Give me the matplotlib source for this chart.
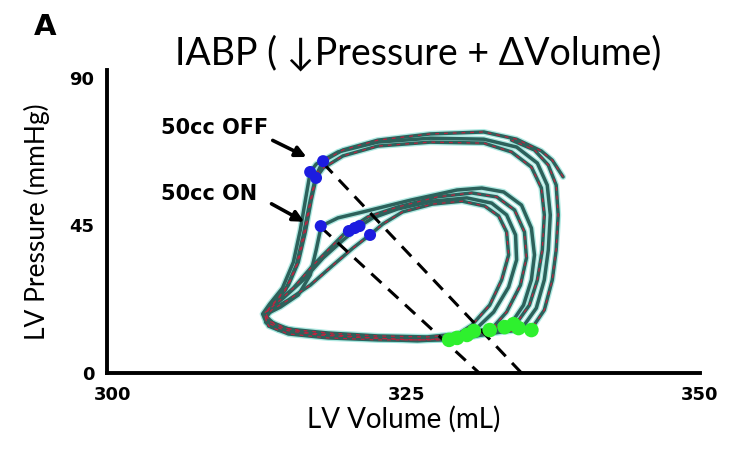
import numpy as np
import matplotlib
matplotlib.use("Agg")
import matplotlib.pyplot as plt

# pressure-volume loops (volume mL, pressure mmHg)
off_a_v = [338.34, 337.42, 336.49, 334.38, 331.59, 327.03, 322.55, 319.59, 317.91, 317.31, 316.81,
           316.22, 315.63, 314.70, 313.60, 312.92, 313.26, 314.95, 318.33, 322.55, 326.77, 330.15,
           333.11, 335.64, 336.74, 337.42, 337.75, 337.92, 337.75, 337.08, 335.90, 333.95]
off_a_p = [59.8, 64.9, 67.7, 71.3, 73.5, 72.9, 71.0, 68.0, 64.6, 60.4, 52.7,
           42.1, 32.9, 25.3, 20.7, 17.7, 14.3, 11.9, 10.7, 10.1, 10.1, 11.0,
           12.5, 13.4, 19.2, 28.4, 37.5, 48.2, 57.3, 63.4, 68.0, 71.0]

off_b_v = [316.81, 316.47, 315.96, 315.37, 314.44, 313.34, 312.75, 313.09, 314.78, 318.33, 322.55,
           326.77, 330.15, 332.69, 334.97, 336.06, 336.74, 337.08, 337.25, 336.99, 336.15, 334.38,
           331.59, 327.03, 322.55, 319.17, 317.31, 316.81]
off_b_p = [61.3, 54.3, 43.6, 33.8, 25.9, 21.0, 18.0, 15.2, 12.8, 11.6, 11.0,
           10.7, 11.6, 13.1, 14.3, 19.8, 28.4, 37.5, 48.2, 57.3, 64.0, 68.9,
           71.3, 71.6, 70.4, 67.4, 63.7, 61.3]

off_c_v = [317.31, 316.89, 316.39, 315.79, 314.95, 313.77, 313.01, 313.26, 314.95, 318.33, 322.55,
           326.77, 330.15, 332.69, 334.38, 335.47, 336.15, 336.57, 336.74, 336.49, 335.64, 333.95,
           331.59, 327.03, 322.55, 319.59, 317.91, 317.31]
off_c_p = [59.5, 52.7, 43.0, 33.8, 26.8, 21.6, 18.6, 15.9, 13.4, 12.2, 11.3,
           11.0, 12.2, 14.0, 15.2, 20.7, 28.4, 37.5, 48.2, 56.4, 62.8, 67.4,
           70.1, 70.4, 69.2, 66.2, 62.5, 59.5]

on_a_v = [317.74, 317.31, 316.81, 315.79, 314.27, 313.09, 313.01, 314.10, 317.48, 321.71, 325.93,
          330.15, 332.26, 333.70, 334.97, 335.64, 335.90, 335.64, 334.80, 333.28, 331.42, 329.31,
          325.34, 321.28, 319.17, 317.74]
on_a_p = [44.8, 37.5, 29.9, 23.8, 20.1, 18.0, 15.5, 13.1, 11.3, 10.4, 9.8,
          10.7, 12.2, 14.0, 20.7, 28.4, 36.0, 44.2, 51.2, 55.2, 56.4, 55.8,
          52.7, 49.1, 47.3, 44.8]

on_b_v = [320.02, 318.75, 317.06, 315.37, 313.94, 312.92, 313.09, 314.53, 317.48, 321.71, 325.93,
          329.31, 332.09, 333.53, 334.71, 335.22, 335.05, 334.21, 332.69, 330.57, 327.62, 324.24,
          321.71, 320.02]
on_b_p = [43.6, 39.0, 32.9, 25.9, 21.3, 18.3, 15.5, 13.1, 11.6, 10.7, 10.1,
          10.7, 12.8, 18.6, 26.8, 35.1, 43.0, 49.7, 53.7, 54.9, 53.7, 50.6,
          47.6, 43.6]

on_c_v = [321.03, 319.59, 317.91, 316.22, 314.53, 313.26, 312.92, 313.68, 316.64, 320.86, 325.08,
          328.46, 330.74, 332.43, 333.70, 334.38, 334.29, 333.53, 332.26, 330.15, 327.20, 324.24,
          322.13, 321.03]
on_c_p = [44.8, 40.5, 35.1, 28.4, 22.9, 19.2, 16.8, 14.0, 11.9, 11.0, 10.4,
          11.0, 12.8, 18.6, 26.2, 34.5, 42.1, 48.2, 51.8, 53.4, 52.4, 50.0,
          47.3, 44.8]

on_d_v = [321.88, 320.44, 318.75, 316.81, 314.95, 313.51, 313.09, 313.94, 316.64, 320.86, 325.08,
          328.63, 330.57, 332.09, 333.11, 333.70, 333.53, 332.85, 331.67, 329.73, 327.20, 324.66,
          322.97, 321.88]
on_d_p = [42.1, 38.1, 32.9, 26.8, 22.3, 19.2, 17.1, 14.3, 12.2, 11.0, 10.1,
          10.1, 14.6, 20.7, 28.4, 36.0, 43.0, 47.9, 50.9, 52.4, 51.5, 49.1,
          45.4, 42.1]

# end-systolic points (blue) and end-diastolic points (green)
es_v = [317.9, 316.8, 317.3, 317.7, 320.1, 320.6, 321.0, 321.9]
es_p = [64.6, 61.3, 59.5, 44.8, 43.3, 44.2, 44.8, 42.1]
ed_v = [328.63, 329.31, 330.15, 330.74, 332.09, 333.36, 334.12, 334.55, 335.64]
ed_p = [10.1, 10.7, 11.6, 12.8, 13.1, 14.0, 14.9, 13.7, 13.1]

# arterial elastance lines: end-systolic point -> EDV at zero pressure
ea_off_v = [317.9, 334.8]
ea_off_p = [64.0, 0.0]
ea_on_v = [317.7, 331.2]
ea_on_p = [44.5, 0.0]

loops = [(off_a_v, off_a_p), (off_b_v, off_b_p), (off_c_v, off_c_p),
         (on_a_v, on_a_p), (on_b_v, on_b_p), (on_c_v, on_c_p), (on_d_v, on_d_p)]

fig = plt.figure(figsize=(7.34, 4.53), dpi=100)
ax = fig.add_axes([0.1458, 0.1766, 0.8079, 0.6689])

for v, p in loops:
    ax.plot(v, p, color="#8fe0d6", lw=4.4, alpha=0.7, solid_joinstyle="round",
            solid_capstyle="round", zorder=2)
for v, p in loops:
    ax.plot(v, p, color="#2c615b", lw=2.5, solid_joinstyle="round",
            solid_capstyle="round", zorder=3)
for v, p in loops[::2]:
    ax.plot(v, p, color="#c0233f", lw=0.9, ls=(0, (3, 4)), zorder=4)

ax.plot(ea_off_v, ea_off_p, color="black", lw=2.2, ls=(0, (4.5, 3)), zorder=5)
ax.plot(ea_on_v, ea_on_p, color="black", lw=2.2, ls=(0, (4.5, 3)), zorder=5)

ax.scatter(ed_v, ed_p, s=110, color="#2ef02e", edgecolors="none", zorder=6)
ax.scatter(es_v, es_p, s=75, color="#1c1ce0", edgecolors="none", zorder=6)

ax.annotate("", xy=(316.7, 65.5), xytext=(313.4, 71.3),
            arrowprops=dict(arrowstyle="-|>", color="black", lw=2.6, mutation_scale=16))
ax.annotate("", xy=(316.5, 45.7), xytext=(313.3, 52.0),
            arrowprops=dict(arrowstyle="-|>", color="black", lw=2.6, mutation_scale=16))
ax.text(304.1, 74.7, "50cc OFF", fontsize=15, fontweight="bold", va="center", ha="left")
ax.text(304.1, 54.6, "50cc ON", fontsize=15, fontweight="bold", va="center", ha="left")

ax.set_xlim(299.5, 349.6)
ax.set_ylim(0, 92.4)
ax.set_xticks([300, 325, 350])
ax.set_yticks([0, 45, 90])
ax.tick_params(length=0, labelsize=13)
ax.tick_params(axis="x", pad=9)
ax.tick_params(axis="y", pad=9)
for lab in ax.get_xticklabels() + ax.get_yticklabels():
    lab.set_fontweight("bold")
for s in ["top", "right"]:
    ax.spines[s].set_visible(False)
for s in ["left", "bottom"]:
    ax.spines[s].set_linewidth(2.8)

ax.set_xlabel("LV Volume (mL)", fontsize=20, family=["Lato", "DejaVu Sans"], labelpad=2)
ax.set_ylabel("LV Pressure (mmHg)", fontsize=19, family=["Lato", "DejaVu Sans"], labelpad=14)

fig.text(0.570, 0.882, "IABP ( \u2193Pressure + \u0394Volume)", fontsize=27,
         family=["Lato", "DejaVu Sans"], ha="center", va="center")
fig.text(0.046, 0.94, "A", fontsize=21, fontweight="bold", ha="left", va="center")

fig.savefig("out.png", dpi=100)
